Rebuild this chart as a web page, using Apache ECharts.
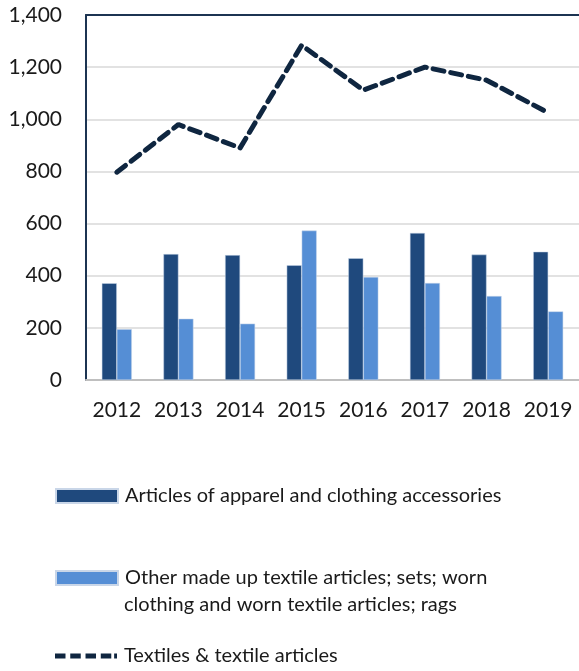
<!DOCTYPE html>
<html>
<head>
<meta charset="utf-8">
<script src="https://cdn.jsdelivr.net/npm/echarts@6/dist/echarts.min.js"></script>
<style>
html,body{margin:0;padding:0;background:#fff;}
#chart{width:579px;height:671px;}
</style>
</head>
<body>
<div id="chart"></div>
<script>
// 数据
var years = ['2012', '2013', '2014', '2015', '2016', '2017', '2018', '2019'];
var apparel = [371, 483, 479, 440, 467, 564, 481, 492];
var otherMadeUp = [195, 235, 216, 573, 395, 372, 322, 263];
var textiles = [797, 980, 890, 1284, 1112, 1200, 1150, 1025];
var yTicks = [0, 200, 400, 600, 800, 1000, 1200, 1400];

var nameA = 'Articles of apparel and clothing accessories';
var nameB = 'Other made up textile articles; sets; worn';
var nameB2 = 'clothing and worn textile articles; rags';
var nameC = 'Textiles & textile articles';

var font = 'Lato';
var legendFontSize = 20;

// 虚线图例图标
var dashIcon = 'path://M0,0H11V5H0Z M16,0H27V5H16Z M32,0H43V5H32Z M48,0H59V5H48Z M62,0H65V5H62Z';

function legendBox(name, top, icon, h){
	return {
		data: [name],
		left: 55,
		top: top,
		padding: 0,
		orient: 'vertical',
		icon: icon,
		itemWidth: 62,
		itemHeight: h,
		itemGap: 0,
		selectedMode: false,
		textStyle: {fontFamily: font, fontSize: legendFontSize, color: '#1a1a1a', lineHeight: 24, padding: [0, 0, 0, 2]}
	};
}

var myChart = echarts.init(document.getElementById('chart'));
var option = {
	animation: false,
	grid: {left: 86, right: 0, top: 15, bottom: 291},
	legend: [
		legendBox(nameA, 484, 'rect', 14),
		legendBox(nameB, 566, 'rect', 14),
		legendBox(nameC, 644, dashIcon, 5)
	],
	graphic: [
		{
			type: 'text',
			left: 124,
			top: 595,
			style: {text: nameB2, font: legendFontSize + 'px ' + font, fill: '#1a1a1a'}
		}
	],
	xAxis: [
		{
			type: 'category',
			data: years,
			axisLine: {lineStyle: {color: '#bfbfbf', width: 2}},
			axisTick: {show: false},
			axisLabel: {interval: 0, fontFamily: font, fontSize: 21, color: '#1a1a1a', margin: 20}
		},
		{
			type: 'category',
			data: years,
			position: 'top',
			axisLine: {lineStyle: {color: '#1c3452', width: 2}},
			axisTick: {show: false},
			axisLabel: {show: false}
		}
	],
	yAxis: {
		type: 'value',
		min: 0,
		max: 1400,
		interval: 200,
		axisLine: {show: true, lineStyle: {color: '#1c3452', width: 2}},
		axisTick: {show: false},
		splitLine: {lineStyle: {color: '#d9d9d9', width: 1.5}},
		axisLabel: {
			fontFamily: font, fontSize: 21, color: '#1a1a1a', margin: 24,
			formatter: function(v){ return v.toLocaleString('en-US'); }
		}
	},
	series: [
		{
			name: nameA,
			type: 'bar',
			data: apparel,
			barWidth: 15,
			barGap: '0%',
			itemStyle: {color: '#1f497d', borderColor: '#c9d6e8', borderWidth: 0.5}
		},
		{
			name: nameB,
			type: 'bar',
			data: otherMadeUp,
			barWidth: 15,
			itemStyle: {color: '#558ed5', borderColor: '#c9d6e8', borderWidth: 0.5}
		},
		{
			name: nameC,
			type: 'line',
			data: textiles,
			symbol: 'none',
			z: 5,
			lineStyle: {color: '#0f2640', width: 5, type: [11, 7], cap: 'round'},
			itemStyle: {color: '#0f2640'}
		}
	]
};
myChart.setOption(option);
</script>
</body>
</html>
